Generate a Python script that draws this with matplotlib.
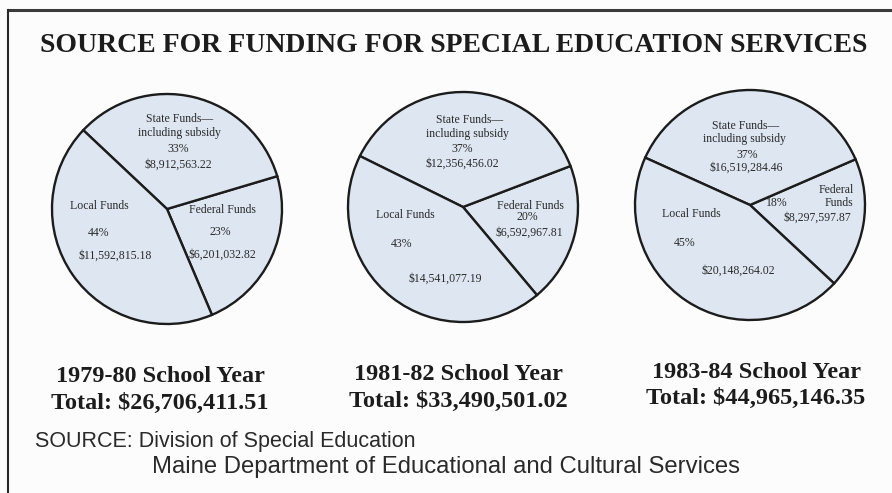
import matplotlib.pyplot as plt

# ==============================
# DATA
# ==============================
years = ["1979-80", "1981-82", "1983-84"]
totals = ["$26,706,411.51", "$33,490,501.02", "$44,965,146.35"]

local_funds = [11592815.18, 14541077.19, 20148264.02]
state_funds = [8912563.22, 12356456.02, 16519284.46]
federal_funds = [6201032.82, 6592967.81, 8297597.87]

local_pct = [44, 43, 45]
state_pct = [33, 37, 37]
federal_pct = [23, 20, 18]

title = "SOURCE FOR FUNDING FOR SPECIAL EDUCATION SERVICES"
source_1 = "SOURCE: Division of Special Education"
source_2 = "Maine Department of Educational and Cultural Services"

# ==============================
# LAYOUT (pixel coords, y from top)
# ==============================
W, H = 892, 493
centers = [(167, 209), (463, 207), (750, 205)]
radius = 115
start_angles = [-67, -50, -43]

# label offsets from pie center: (dx, dy)
label_pos = [
    {"state": [(13, -90), (12, -76), (11, -60), (11, -44)],
     "local": [(-68, -3), (-68, 24), (-52, 47)],
     "federal": [(55, 1), (53, 23), (55, 46)]},
    {"state": [(7, -87), (4, -73), (-1, -58), (-1, -43)],
     "local": [(-58, 8), (-61, 37), (-18, 72)],
     "federal": [(67, -1), (64, 10), (66, 26)]},
    {"state": [(-4, -79), (-6, -66), (-3, -50), (-4, -37)],
     "local": [(-59, 9), (-65, 38), (-12, 66)],
     "federal3": [(86, -15), (89, -2), (27, -2), (67, 13)]},
]
year_x = [160, 458, 756]
year_y = [(377, 403), (375, 401), (372, 398)]

ink = "#1c1c1c"
fill = "#dde6f1"
serif = ["Liberation Serif", "DejaVu Serif"]
sans = ["Liberation Sans", "DejaVu Sans"]


def Y(y):
    return H - y


fig = plt.figure(figsize=(W / 100, H / 100), dpi=100)
fig.patch.set_facecolor("#fcfcfc")
ax = fig.add_axes([0, 0, 1, 1])

for i in range(3):
    cx, cy = centers[i]
    vals = [federal_funds[i], state_funds[i], local_funds[i]]
    ax.pie(vals, center=(cx, Y(cy)), radius=radius, startangle=start_angles[i],
           counterclock=True, colors=[fill] * 3,
           wedgeprops=dict(edgecolor=ink, linewidth=1.7), frame=True)

    lp = label_pos[i]
    txt = dict(ha="center", va="center", fontsize=8.5, family=serif, color="#2a2a2a")
    st = ["State Funds\u2014", "including subsidy", f"{state_pct[i]}%", f"${state_funds[i]:,.2f}"]
    for s, (dx, dy) in zip(st, lp["state"]):
        ax.text(cx + dx, Y(cy + dy), s, **txt)
    lo = ["Local Funds", f"{local_pct[i]}%", f"${local_funds[i]:,.2f}"]
    for s, (dx, dy) in zip(lo, lp["local"]):
        ax.text(cx + dx, Y(cy + dy), s, **txt)
    if "federal" in lp:
        fe = ["Federal Funds", f"{federal_pct[i]}%", f"${federal_funds[i]:,.2f}"]
        for s, (dx, dy) in zip(fe, lp["federal"]):
            ax.text(cx + dx, Y(cy + dy), s, **txt)
    else:
        fe = ["Federal", "Funds", f"{federal_pct[i]}%", f"${federal_funds[i]:,.2f}"]
        for s, (dx, dy) in zip(fe, lp["federal3"]):
            ax.text(cx + dx, Y(cy + dy), s, **txt)

    y1, y2 = year_y[i]
    ax.text(year_x[i], Y(y1), f"{years[i]} School Year", ha="center", va="center",
            fontsize=17.5, fontweight="bold", family=serif, color=ink)
    ax.text(year_x[i], Y(y2), f"Total: {totals[i]}", ha="center", va="center",
            fontsize=17.5, fontweight="bold", family=serif, color=ink)

ax.text(454, Y(45), title, ha="center", va="center", fontsize=20,
        fontweight="bold", family=serif, color=ink)
ax.text(35, Y(441), source_1, ha="left", va="center", fontsize=15.5, family=sans, color="#2a2a2a")
ax.text(152, Y(467), source_2, ha="left", va="center", fontsize=17.2, family=sans, color="#2a2a2a")

# frame lines
ax.plot([8, W], [Y(10), Y(10)], color="#3a3a3a", lw=2.2, solid_capstyle="butt")
ax.plot([8, 8], [Y(10), 0], color="#2a2a2a", lw=1.5)

ax.set_xlim(0, W)
ax.set_ylim(0, H)
ax.set_aspect("equal")
ax.axis("off")

plt.savefig("out.png", dpi=100, facecolor=fig.get_facecolor())
